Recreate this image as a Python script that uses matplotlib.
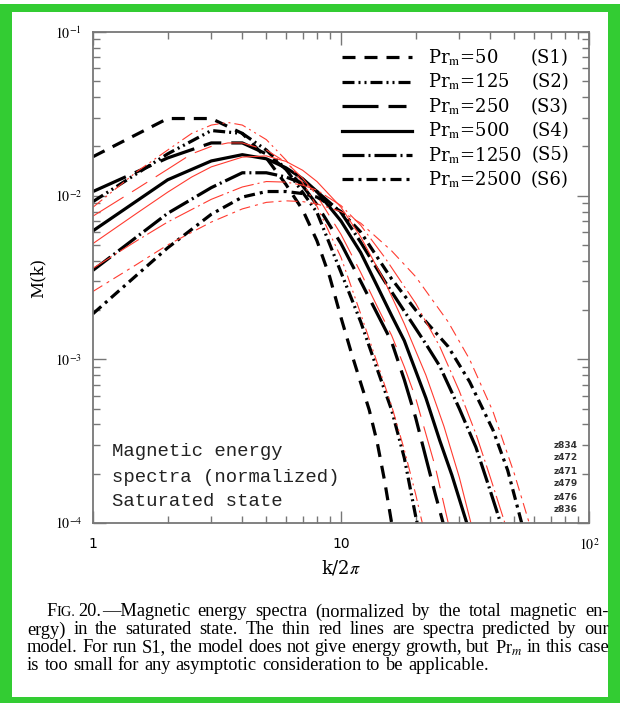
import numpy as np
import matplotlib
matplotlib.use("Agg")
import matplotlib.pyplot as plt
from matplotlib.patches import Rectangle
from matplotlib.lines import Line2D

plt.rcParams['lines.scale_dashes'] = False
plt.rcParams['mathtext.fontset'] = 'stix'

# ---------------- data ----------------
runs = ["S1", "S2", "S3", "S4", "S5", "S6"]
prm = [50, 125, 250, 500, 1250, 2500]
zlabels = ["z834", "z472", "z471", "z479", "z476", "z836"]

# simulated spectra (thick black)
k_s1 = [1, 2, 3, 4, 5, 6, 7, 8, 9, 10, 11, 12, 13, 14, 15, 16]
m_s1 = [0.0173, 0.0296, 0.0296, 0.024, 0.017, 0.0117, 0.0082, 0.0053, 0.0032, 0.0018,
        0.0011, 0.00072, 0.00049, 0.00031, 0.00018, 0.0001]
k_s2 = [1, 2, 3, 4, 5, 6, 7, 8, 10, 12, 14, 16, 18, 20, 21]
m_s2 = [0.0092, 0.018, 0.025, 0.024, 0.019, 0.0145, 0.0105, 0.0079, 0.0034, 0.0017,
        0.00087, 0.00049, 0.00025, 0.00011, 0.00008]
k_s3 = [1, 2, 3, 4, 5, 6, 7, 8, 10, 12, 14, 16, 18, 20, 22, 24, 26]
m_s3 = [0.0106, 0.017, 0.021, 0.021, 0.018, 0.0145, 0.0115, 0.0088, 0.0051, 0.0030,
        0.0019, 0.00128, 0.00075, 0.00044, 0.00025, 0.00015, 0.000096]
k_s4 = [1, 2, 3, 4, 5, 6, 7, 8, 10, 12, 14, 16, 18, 22, 25, 28, 30, 33]
m_s4 = [0.0061, 0.0125, 0.0163, 0.0178, 0.0168, 0.0148, 0.0127, 0.0106, 0.0070, 0.0045,
        0.0028, 0.00185, 0.0013, 0.00058, 0.00032, 0.000196, 0.00014, 0.000088]
k_s5 = [1, 2, 3, 4, 5, 6, 7, 8, 10, 12, 15, 18, 22, 25, 30, 35, 40, 45]
m_s5 = [0.0035, 0.0078, 0.0112, 0.0138, 0.0138, 0.0130, 0.0119, 0.0106, 0.0079, 0.0052,
        0.0030, 0.00197, 0.00124, 0.00091, 0.00050, 0.00029, 0.000157, 0.00009]
k_s6 = [1, 2, 3, 4, 5, 6, 7, 8, 10, 12, 16, 20, 27, 33, 41, 47, 54]
m_s6 = [0.0019, 0.0048, 0.0077, 0.0098, 0.0106, 0.0106, 0.0103, 0.0098, 0.0080, 0.0060,
        0.0031, 0.0020, 0.0012, 0.00073, 0.00037, 0.00021, 0.000095]

# model spectra (thin red), none for S1
k_r2 = [1, 1.5, 2, 2.5, 3, 3.5, 4, 5, 6, 7, 8, 10, 12, 14, 16, 18, 20, 22]
m_r2 = [0.0085, 0.014, 0.019, 0.024, 0.027, 0.028, 0.027, 0.022, 0.0165, 0.012, 0.0086,
        0.0042, 0.0019, 0.00095, 0.00052, 0.00028, 0.00015, 0.00008]
k_r3 = [1, 1.5, 2, 2.5, 3, 3.5, 4, 5, 6, 7, 8, 10, 12, 14, 16, 18, 20, 24, 28]
m_r3 = [0.0075, 0.011, 0.0145, 0.018, 0.020, 0.021, 0.021, 0.019, 0.016, 0.0128, 0.0100,
        0.0058, 0.0034, 0.0021, 0.0014, 0.00090, 0.00058, 0.00022, 0.00008]
k_r4 = [1, 1.5, 2, 2.5, 3, 4, 5, 6, 7, 8, 10, 12, 15, 18, 22, 26, 30, 34]
m_r4 = [0.0051, 0.0078, 0.0105, 0.013, 0.015, 0.0172, 0.0175, 0.0162, 0.0143, 0.0122,
        0.0085, 0.0056, 0.0030, 0.00165, 0.00080, 0.00039, 0.00019, 0.00009]
k_r5 = [1, 1.5, 2, 3, 4, 5, 6, 7, 8, 10, 12, 15, 20, 25, 30, 35, 40, 48]
m_r5 = [0.0036, 0.0053, 0.0069, 0.0095, 0.0113, 0.0122, 0.0121, 0.0116, 0.0108, 0.0087,
        0.0066, 0.0042, 0.0022, 0.0012, 0.00064, 0.00035, 0.00019, 0.00008]
k_r6 = [1, 1.5, 2, 3, 4, 5, 6, 7, 8, 10, 12, 16, 20, 27, 33, 41, 50, 60]
m_r6 = [0.0026, 0.0038, 0.0050, 0.0069, 0.0083, 0.0091, 0.0093, 0.0092, 0.0089, 0.0080,
        0.0068, 0.0046, 0.0032, 0.0017, 0.00100, 0.00048, 0.00020, 0.00008]

k_sim = [k_s1, k_s2, k_s3, k_s4, k_s5, k_s6]
m_sim = [m_s1, m_s2, m_s3, m_s4, m_s5, m_s6]
k_mod = [None, k_r2, k_r3, k_r4, k_r5, k_r6]
m_mod = [None, m_r2, m_r3, m_r4, m_r5, m_r6]

# dash patterns in pixels -> points
px = 0.72
styles = [
    (0, (13 * px, 9 * px)),
    (0, (12 * px, 4 * px, 2 * px, 4 * px, 2 * px, 4 * px)),
    (0, (36 * px, 10 * px, 18 * px, 10 * px)),
    '-',
    (0, (22 * px, 4 * px, 2 * px, 4 * px)),
    (0, (11 * px, 5 * px, 3 * px, 5 * px)),
]

# ---------------- figure ----------------
fig = plt.figure(figsize=(6.2, 7.03), dpi=100)
W, H = 620, 703

green = '#33cc33'
# border rectangles in pixel units: top, bottom, left, right
for (x0, y0, w, h) in [(0, 4, 620, 8), (0, 697, 620, 6), (0, 4, 12, 699), (608, 4, 12, 699)]:
    fig.patches.append(Rectangle((x0 / W, 1 - (y0 + h) / H), w / W, h / H,
                                 transform=fig.transFigure, facecolor=green,
                                 edgecolor='none'))

ax = fig.add_axes([93 / W, 1 - 523 / H, (589 - 93) / W, (523 - 32) / H])

for i in range(6):
    ax.plot(k_sim[i], m_sim[i], color='black', lw=2.3, linestyle=styles[i],
            solid_capstyle='butt', dash_capstyle='butt')
for i in range(1, 6):
    ax.plot(k_mod[i], m_mod[i], color='#ff3b30', lw=0.8, linestyle=styles[i])

ax.set_xscale('log')
ax.set_yscale('log')
ax.set_xlim(1, 100)
ax.set_ylim(1e-4, 1e-1)

gray = '#777777'
for s in ax.spines.values():
    s.set_color(gray)
    s.set_linewidth(1.3)
ax.tick_params(which='both', direction='in', top=True, right=True, color=gray,
               width=1.0, labelsize=10)
ax.tick_params(axis='x', which='both', pad=10)
ax.tick_params(axis='y', which='both', pad=8)
ax.tick_params(which='major', length=9)
ax.tick_params(which='minor', length=5)
ax.set_xticks([1, 10, 100])
ax.set_xticklabels(['1', '10', r'$10^2$'])
ax.set_yticks([1e-4, 1e-3, 1e-2, 1e-1])
ax.set_yticklabels([r'$10^{-4}$', r'$10^{-3}$', r'$10^{-2}$', r'$10^{-1}$'])
for lab in ax.get_xticklabels() + ax.get_yticklabels():
    lab.set_fontfamily('DejaVu Sans')
ax.set_xlabel(r'k/2$\pi$', fontsize=13, family='DejaVu Serif', labelpad=4)
ax.set_ylabel('M(k)', fontsize=12, family='DejaVu Serif', labelpad=6)

# legend
handles = [Line2D([], [], color='black', lw=2.3, linestyle=styles[i]) for i in range(6)]
labels = [r'Pr$_\mathrm{m}$=%d' % p for p in prm]
leg = ax.legend(handles, labels, loc='upper left', bbox_to_anchor=(0.502, 0.968),
                frameon=False, prop={'family': 'DejaVu Serif', 'size': 13},
                handlelength=3.85, handletextpad=0.9, labelspacing=0.22,
                borderaxespad=0, borderpad=0)

fig.canvas.draw()
rend = fig.canvas.get_renderer()
for t, run in zip(leg.get_texts(), runs):
    bb = t.get_window_extent(rend)
    yc = (bb.y0 + bb.y1) / 2
    fig.text(569 / W, yc / fig.bbox.height, '(%s)' % run, ha='right', va='center',
             family='DejaVu Serif', fontsize=13)

notes = ['Magnetic energy', 'spectra (normalized)', 'Saturated state']
for j, s in enumerate(notes):
    fig.text(112 / W, 1 - (452 + 25 * j) / H, s, family='Liberation Mono', fontsize=13.6,
             va='center', ha='left', color='#222222')

for j, z in enumerate(zlabels):
    fig.text(566 / W, 1 - (445 + 13 * j) / H, z, ha='center', va='center',
             fontsize=6.5, family='DejaVu Sans', fontweight='bold', color='#333333')

# caption, justified word by word
cap_lines = [
    ['\u2014Magnetic', 'energy', 'spectra', '(normalized', 'by', 'the', 'total',
     'magnetic', 'en-'],
    'ergy) in the saturated state. The thin red lines are spectra predicted by our'.split(),
    ['model.', 'For', 'run', 'S1,', 'the', 'model', 'does', 'not', 'give', 'energy',
     'growth,', 'but', r'Pr$_m$', 'in', 'this', 'case'],
    'is too small for any asymptotic consideration to be applicable.'.split(),
]
cap_y = [612, 630, 648, 666]
cap_fs = 13.2
xl, xr = 27, 609
for li, words in enumerate(cap_lines):
    yb = 1 - cap_y[li] / H
    x = xl
    if li == 0:
        # small caps "FIG. 20."
        t1 = fig.text(46 / W, yb, 'F', family='Liberation Serif', fontsize=cap_fs, va='center')
        w1 = t1.get_window_extent(rend).width
        t2 = fig.text((46 + w1) / W, yb, 'IG.', family='Liberation Serif',
                      fontsize=cap_fs * 0.78, va='center')
        w2 = t2.get_window_extent(rend).width
        t3 = fig.text((46 + w1 + w2 + 3.5) / W, yb, '20.', family='Liberation Serif',
                      fontsize=cap_fs, va='center')
        x = 46 + w1 + w2 + 3.5 + t3.get_window_extent(rend).width
    texts = [fig.text(0, yb, w, family='Liberation Serif', fontsize=cap_fs, va='center')
             for w in words]
    widths = [t.get_window_extent(rend).width for t in texts]
    if li == len(cap_lines) - 1:
        gap = 5.0
    else:
        gap = (xr - x - sum(widths)) / (len(words) - 1)
    for t, w in zip(texts, widths):
        t.set_x(x / W)
        x += w + gap

fig.savefig('out.png', dpi=100)
